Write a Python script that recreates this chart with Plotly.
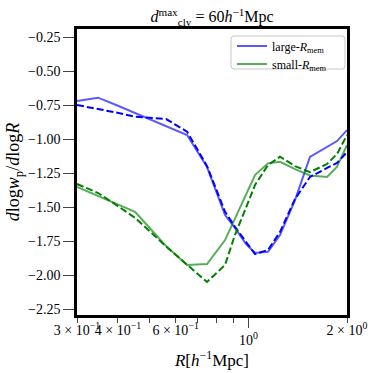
import plotly.graph_objects as go
import numpy as np

# Data
R = [0.30, 0.348, 0.395, 0.451, 0.505, 0.561, 0.650, 0.748, 0.849, 0.910,
     0.984, 1.048, 1.148, 1.249, 1.388, 1.542, 1.738, 1.865, 2.0]

large_solid = [-0.721, -0.696, -0.750, -0.809, -0.860, -0.904, -0.971, -1.206, -1.559, -1.654,
               -1.772, -1.838, -1.829, -1.706, -1.449, -1.132, -1.059, -1.015, -0.934]
large_dashed = [-0.750, -0.779, -0.805, -0.836, -0.842, -0.853, -0.946, -1.199, -1.535, -1.645,
                -1.757, -1.846, -1.816, -1.684, -1.441, -1.279, -1.213, -1.176, -1.096]
small_solid = [-1.353, -1.419, -1.475, -1.535, -1.665, -1.787, -1.926, -1.919, -1.743, -1.583,
               -1.408, -1.265, -1.179, -1.167, -1.221, -1.268, -1.279, -1.204, -1.044]
small_dashed = [-1.331, -1.397, -1.485, -1.579, -1.688, -1.790, -1.924, -2.051, -1.926, -1.706,
                -1.504, -1.338, -1.191, -1.130, -1.199, -1.243, -1.184, -1.110, -0.971]

y_ticks = [-2.25, -2.0, -1.75, -1.5, -1.25, -1.0, -0.75, -0.5, -0.25]
y_ticktext = ["\u2212%.2f" % abs(v) for v in y_ticks]
x_minor_labels = [0.3, 0.4, 0.6, 2.0]
x_minor_text = ["3 \u00d7 10<sup>\u22121</sup>", "4 \u00d7 10<sup>\u22121</sup>",
                "6 \u00d7 10<sup>\u22121</sup>", "2 \u00d7 10<sup>0</sup>"]
x_minor_ticks = [0.3, 0.4, 0.5, 0.6, 0.7, 0.8, 0.9, 2.0]

FONT = "Liberation Serif"
blue_light = "rgba(0,0,255,0.65)"
green_light = "rgba(0,128,0,0.65)"
TICKC = "#444444"
DASH = "7px,3px"

fig = go.Figure()
fig.add_trace(go.Scatter(x=R, y=large_solid, mode="lines", name="large-<i>R</i><sub>mem</sub>",
                         line=dict(color=blue_light, width=2), legend="legend"))
fig.add_trace(go.Scatter(x=R, y=small_solid, mode="lines", name="small-<i>R</i><sub>mem</sub>",
                         line=dict(color=green_light, width=2), legend="legend2"))
fig.add_trace(go.Scatter(x=R, y=large_dashed, mode="lines", showlegend=False,
                         line=dict(color="blue", width=2, dash=DASH)))
fig.add_trace(go.Scatter(x=R, y=small_dashed, mode="lines", showlegend=False,
                         line=dict(color="green", width=2, dash=DASH)))
# invisible trace to activate x2 axis labels
fig.add_trace(go.Scatter(x=[0.3, 2.0], y=[-1.0, -1.0], xaxis="x2", mode="lines",
                         line=dict(width=0), showlegend=False, hoverinfo="skip", opacity=0))

# legend frame (paper coords)
bx0, bx1, by0, by1, rr = 0.5704, 0.9926, 0.8601, 0.9755, 0.011
frame_path = (f"M {bx0+rr},{by0} L {bx1-rr},{by0} Q {bx1},{by0} {bx1},{by0+rr} "
              f"L {bx1},{by1-rr} Q {bx1},{by1} {bx1-rr},{by1} L {bx0+rr},{by1} "
              f"Q {bx0},{by1} {bx0},{by1-rr} L {bx0},{by0+rr} Q {bx0},{by0} {bx0+rr},{by0} Z")

xr = [np.log10(0.3), np.log10(2.0)]
leg_common = dict(xanchor="left", yanchor="middle", bgcolor="rgba(0,0,0,0)",
                  borderwidth=0, font=dict(size=12), itemwidth=30)
fig.update_layout(
    width=374, height=373,
    margin=dict(l=77, r=27, t=29, b=58, autoexpand=False),
    plot_bgcolor="white", paper_bgcolor="white",
    font=dict(family=FONT, color="black", size=14),
    title=dict(text="<i>d</i><sup>max</sup><sub>cly</sub> = 60<i>h</i><sup>\u22121</sup>Mpc",
               x=0.567, xanchor="center", y=0.955, yanchor="middle",
               font=dict(size=16, family=FONT)),
    xaxis=dict(type="log", range=xr, automargin=False, showline=True, linecolor="black",
               linewidth=2.5, mirror=True,
               showgrid=False, zeroline=False, ticks="outside", ticklen=10, tickwidth=1.3,
               tickcolor=TICKC, tickmode="array", tickvals=[1.0],
               ticktext=["10<sup>0</sup>"], tickangle=0, ticklabelstandoff=0,
               minor=dict(tickmode="array", tickvals=x_minor_ticks, ticks="outside",
                          ticklen=5, tickwidth=1, tickcolor=TICKC),
               title=dict(text="<i>R</i>[<i>h</i><sup>\u22121</sup>Mpc]", font=dict(size=17), standoff=0)),
    xaxis2=dict(type="log", range=xr, automargin=False, overlaying="x", side="bottom", anchor="y",
                showline=False, showgrid=False, zeroline=False, ticks="", tickmode="array",
                tickvals=x_minor_labels, ticktext=x_minor_text, tickangle=0,
                tickfont=dict(size=14), ticklabelstandoff=5),
    yaxis=dict(range=[-2.294, -0.191], automargin=False, showline=True, linecolor="black",
               linewidth=2.5, mirror=True,
               showgrid=False, zeroline=False, ticks="outside", ticklen=11, tickwidth=1.3,
               tickcolor=TICKC, tickmode="array", tickvals=y_ticks, ticktext=y_ticktext,
               title=dict(text="<i>d</i>log<i>w</i><sub>p</sub>/<i>d</i>log<i>R</i>",
                          font=dict(size=18), standoff=4)),
    legend=dict(x=0.574, y=0.9406, **leg_common),
    legend2=dict(x=0.574, y=0.8776, **leg_common),
    shapes=[dict(type="path", xref="paper", yref="paper", path=frame_path,
                 line=dict(color="#c8c8c8", width=1), fillcolor="rgba(255,255,255,0.8)",
                 layer="above")],
    showlegend=True,
)
fig.write_html("out.html", config={"displayModeBar": False},
               post_script="document.body.style.margin='0';")
